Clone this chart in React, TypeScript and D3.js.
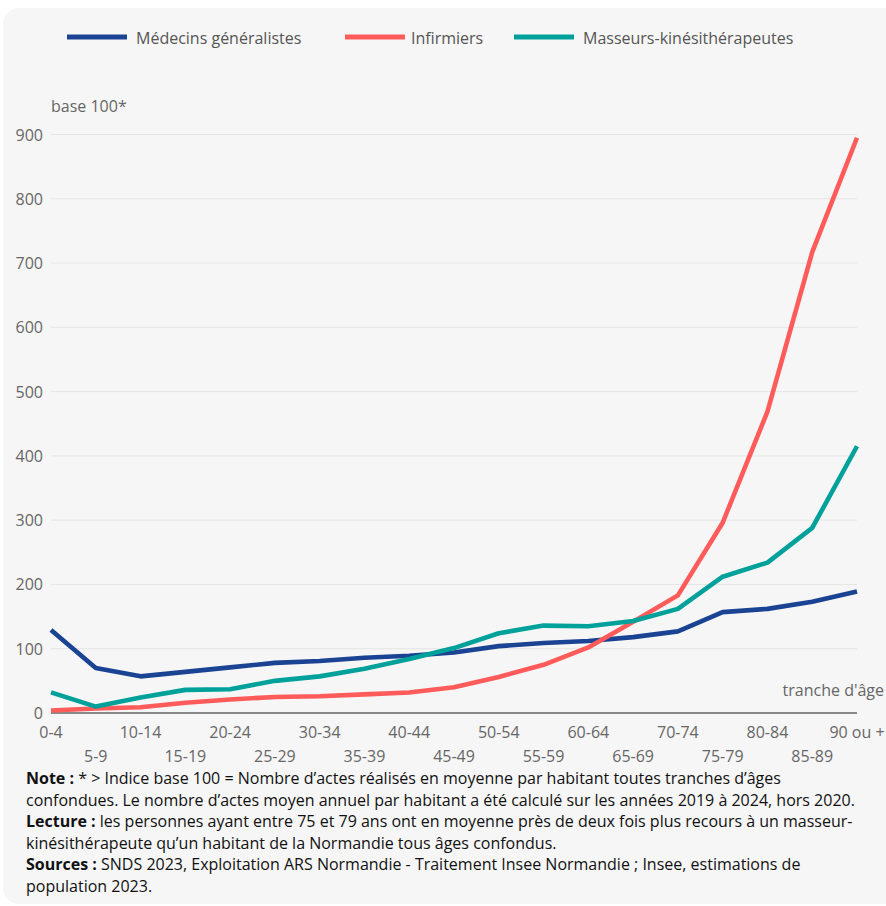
import * as d3 from "d3";

const ageGroups = [
  "0-4", "5-9", "10-14", "15-19", "20-24", "25-29", "30-34", "35-39", "40-44",
  "45-49", "50-54", "55-59", "60-64", "65-69", "70-74", "75-79", "80-84", "85-89", "90 ou +",
];

const medecins = [129, 70, 57, 64, 71, 78, 81, 86, 89, 94, 104, 109, 112, 118, 127, 157, 162, 173, 189];
const infirmiers = [4, 7, 9, 16, 21, 25, 26, 29, 32, 40, 56, 75, 102, 142, 183, 296, 469, 717, 895];
const masseurs = [32, 10, 24, 36, 37, 50, 57, 69, 84, 101, 124, 136, 135, 143, 162, 212, 234, 288, 415];

const yTicks = [0, 100, 200, 300, 400, 500, 600, 700, 800, 900];

const seriesList = [
  { name: "Médecins généralistes", values: medecins, color: "#1b4393" },
  { name: "Infirmiers", values: infirmiers, color: "#ff5b5b" },
  { name: "Masseurs-kinésithérapeutes", values: masseurs, color: "#00a19a" },
];

const W = 886;
const H = 906;
const font = "'Open Sans', 'Noto Sans', sans-serif";

export default function App() {
  const x = d3.scalePoint<string>().domain(ageGroups).range([51, 857]);
  const y = d3.scaleLinear().domain([0, 900]).range([713, 134.5]);

  const line = d3
    .line<number>()
    .x((_, i) => x(ageGroups[i])!)
    .y((d) => y(d));

  const legendPos = [
    { lx: 67, tx: 136 },
    { lx: 345, tx: 411 },
    { lx: 514, tx: 583 },
  ];

  const notes = [
    [{ b: "Note : ", t: "* > Indice base 100 = Nombre d’actes réalisés en moyenne par habitant toutes tranches d’âges" }],
    [{ b: "", t: "confondues. Le nombre d’actes moyen annuel par habitant a été calculé sur les années 2019 à 2024, hors 2020." }],
    [{ b: "Lecture : ", t: "les personnes ayant entre 75 et 79 ans ont en moyenne près de deux fois plus recours à un masseur-" }],
    [{ b: "", t: "kinésithérapeute qu’un habitant de la Normandie tous âges confondus." }],
    [{ b: "Sources : ", t: "SNDS 2023, Exploitation ARS Normandie - Traitement Insee Normandie ; Insee, estimations de" }],
    [{ b: "", t: "population 2023." }],
  ];

  return (
    <div style={{ position: "absolute", left: 0, top: 0 }}>
      <svg width={W} height={H} style={{ display: "block", fontFamily: font }}>
        <rect x={0} y={0} width={W} height={H} fill="#ffffff" />
        <rect x={3} y={8} width={W + 20} height={896} rx={16} fill="#f6f6f6" />

        {/* legend */}
        {seriesList.map((s, i) => (
          <g key={s.name}>
            <line x1={legendPos[i].lx} x2={legendPos[i].lx + 60} y1={37} y2={37} stroke={s.color} strokeWidth={5} />
            <text x={legendPos[i].tx} y={44} fontSize={16} fill="#555">
              {s.name}
            </text>
          </g>
        ))}

        <text x={51} y={112} fontSize={16} fill="#666">base 100*</text>

        {/* grid + y labels */}
        {yTicks.map((t) => (
          <g key={t}>
            {t > 0 && (
              <line x1={51} x2={857} y1={y(t)} y2={y(t)} stroke="#e5e5e5" strokeWidth={1} />
            )}
            <text x={43} y={y(t) + 6} fontSize={16} fill="#666" textAnchor="end">
              {t}
            </text>
          </g>
        ))}

        <line x1={51} x2={857} y1={y(0)} y2={y(0)} stroke="#888" strokeWidth={2} />

        {/* x labels */}
        {ageGroups.map((g, i) => (
          <text
            key={g}
            x={x(g)!}
            y={i % 2 === 0 ? 738 : 762}
            fontSize={16}
            fill="#666"
            textAnchor="middle"
          >
            {g}
          </text>
        ))}

        <text x={884} y={696} fontSize={16} fill="#666" textAnchor="end">tranche d'âge</text>

        {/* lines */}
        {seriesList.map((s) => (
          <path
            key={s.name}
            d={line(s.values)!}
            fill="none"
            stroke={s.color}
            strokeWidth={4.6}
            strokeLinejoin="round"
          />
        ))}

        {/* notes */}
        {notes.map((row, i) => (
          <text key={i} x={26} y={784 + i * 21.6} fontSize={16} fill="#111">
            {row.map((r, j) => (
              <tspan key={j}>
                {r.b && <tspan fontWeight="bold">{r.b}</tspan>}
                <tspan>{r.t}</tspan>
              </tspan>
            ))}
          </text>
        ))}
      </svg>
    </div>
  );
}
